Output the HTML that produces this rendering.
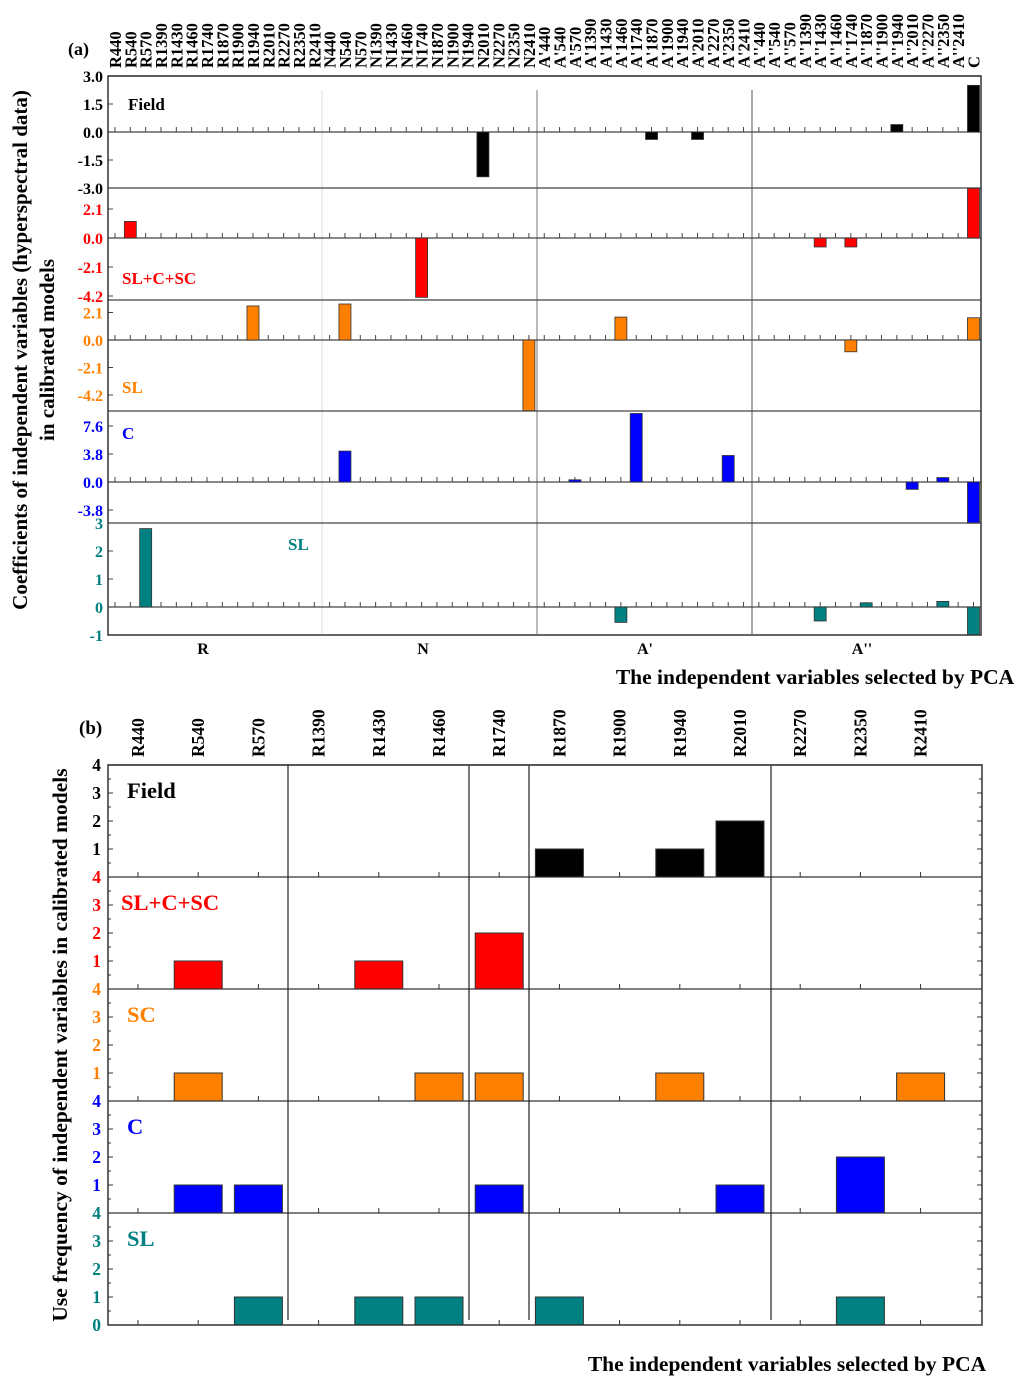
<!DOCTYPE html>
<html><head><meta charset="utf-8"><style>
html,body{margin:0;padding:0;background:#fff;}
svg{display:block;font-family:"Liberation Serif",serif;font-weight:bold;}
</style></head><body>
<svg id="fig" width="1024" height="1382" viewBox="0 0 1024 1382" xmlns="http://www.w3.org/2000/svg"></svg>
<script>
// ---- Panel (a) data ----
const groupsA = ["R","N","A'","A''"];
const bandsA = ["440","540","570","1390","1430","1460","1740","1870","1900","1940","2010","2270","2350","2410"];
const fieldVals = {"N2010":-2.4,"A'1870":-0.4,"A'2010":-0.4,"A''1940":0.4,"C":2.5};
const slcscVals = {"R540":1.2,"N1740":-4.3,"A''1430":-0.65,"A''1740":-0.65,"C":3.6};
const scVals = {"R1940":2.6,"N540":2.75,"N2410":-5.4,"A'1460":1.75,"A''1740":-0.9,"C":1.7};
const cVals = {"N540":4.2,"A'570":0.3,"A'1740":9.3,"A'2350":3.6,"A''2010":-1.0,"A''2350":0.6,"C":-5.6};
const slVals = {"R570":2.8,"A'1460":-0.55,"A''1430":-0.5,"A''1870":0.15,"A''2350":0.2,"C":-1.0};
const ticksField = [3.0,1.5,0.0,-1.5,-3.0];
const ticks21 = [2.1,0.0,-2.1,-4.2];
const ticks38 = [7.6,3.8,0.0,-3.8];
const ticksSL = [3,2,1,0,-1];
// ---- Panel (b) data ----
const catsB = ["R440","R540","R570","R1390","R1430","R1460","R1740","R1870","R1900","R1940","R2010","R2270","R2350","R2410"];
const freqField = [0,0,0,0,0,0,0,1,0,1,2,0,0,0];
const freqSLCSC = [0,1,0,0,1,0,2,0,0,0,0,0,0,0];
const freqSC = [0,1,0,0,0,1,1,0,0,1,0,0,0,1];
const freqC = [0,1,1,0,0,0,1,0,0,0,1,0,2,0];
const freqSL = [0,0,1,0,1,1,0,1,0,0,0,0,1,0];
const ticksB = [4,3,2,1];

const svg = document.getElementById('fig');
const NS = "http://www.w3.org/2000/svg";
function el(tag, attrs, parent){const e=document.createElementNS(NS,tag);for(const k in attrs)e.setAttribute(k,attrs[k]);(parent||svg).appendChild(e);return e;}
function txt(s, attrs, parent){const e=el('text',attrs,parent);e.textContent=s;return e;}

// ===== Panel (a) =====
const catsA = [];
groupsA.forEach(g=>bandsA.forEach(b=>catsA.push(g+b)));
catsA.push("C");
const aL=108, aR=981;
const xA = i => 115 + i*15.33;
const ga = el('g',{});


[[322,'#ddd'],[537,'#777'],[752,'#555']].forEach(s=>{const l=el('line',{x1:s[0],x2:s[0],y1:90,y2:634,stroke:s[1],'stroke-width':1},ga);});
catsA.forEach((c,i)=>{
  const t=txt(c,{x:0,y:0,'font-size':16.5,transform:`translate(${xA(i)+6},68) rotate(-90)`,fill:'#000'},ga);
  
  
});
txt('(a)',{x:68,y:55,'font-size':18},ga);

const subA = [
 {name:'field',vals:fieldVals,top:76,bot:188,zero:132,ppu:56/3,ticks:ticksField,color:'#000',fmt:1,label:'Field',lx:128,ly:110,lc:'#000'},
 {name:'slcsc',vals:slcscVals,top:188,bot:300,zero:238,ppu:29/2.1,ticks:ticks21,color:'#f00',fmt:1,label:'SL+C+SC',lx:122,ly:284,lc:'#f00'},
 {name:'sc',vals:scVals,top:300,bot:411,zero:340,ppu:27.5/2.1,ticks:ticks21,color:'#ff8000',fmt:1,label:'SL',lx:122,ly:393,lc:'#ff8000'},
 {name:'c',vals:cVals,top:411,bot:523,zero:482,ppu:28/3.8,ticks:ticks38,color:'#00f',fmt:1,label:'C',lx:122,ly:439,lc:'#00f'},
 {name:'sl',vals:slVals,top:523,bot:635,zero:607,ppu:28,ticks:ticksSL,color:'#008080',fmt:0,label:'SL',lx:288,ly:550,lc:'#008080'}
];
subA.forEach(p=>{
  const g=el('g',{},ga);
  
  
  const y=v=>p.zero - v*p.ppu;
  el('line',{x1:aL,x2:aR,y1:p.top,y2:p.top,stroke:'#444','stroke-width':1.3},g);
  el('line',{x1:aL,x2:aR,y1:p.zero,y2:p.zero,stroke:'#444','stroke-width':1.3},g);
  catsA.forEach((c,i)=>{el('line',{x1:xA(i),x2:xA(i),y1:p.zero,y2:p.zero-5,stroke:'#444'},g);});
  p.ticks.forEach(t=>{
    el('line',{x1:aL,x2:aL+5,y1:y(t),y2:y(t),stroke:'#444'},g);
    const lab=txt(t.toFixed(p.fmt),{x:103,y:y(t)+6,'font-size':16,'text-anchor':'end',fill:p.color},g);
    
    
  });
  for(const k in p.vals){
    const i=catsA.indexOf(k); const v=p.vals[k];
    const r=el('rect',{x:xA(i)-6,y:Math.min(y(v),p.zero),width:12,height:Math.abs(y(v)-p.zero),fill:p.color,stroke:'#333','stroke-width':0.8},g);
    
    
  }
  const lt=txt(p.label,{x:p.lx,y:p.ly,'font-size':17,fill:p.lc},g);
  
  
});
el('rect',{x:aL,y:76,width:aR-aL,height:635-76,fill:'none',stroke:'#333','stroke-width':1.5},ga);
[['R',203],['N',423],["A'",645],["A''",862]].forEach(g=>{const t=txt(g[0],{x:g[1],y:654,'font-size':16,'text-anchor':'middle'},ga);});
const xta=txt('The independent variables selected by PCA',{x:815,y:684,'font-size':21.5,'text-anchor':'middle'},ga);

const yta=txt('Coefficients of independent variables (hyperspectral data)',{x:0,y:0,'font-size':21,'text-anchor':'middle',transform:'translate(27,350) rotate(-90)'},ga);

const yta2=txt('in calibrated models',{x:0,y:0,'font-size':21,'text-anchor':'middle',transform:'translate(54,350) rotate(-90)'},ga);


// ===== Panel (b) =====
const gb=el('g',{});


const bL=108,bR=982;
const xB=i=>138+i*60.2;
txt('(b)',{x:79,y:734,'font-size':19},gb);
catsB.forEach((c,i)=>{
  const t=txt(c,{x:0,y:0,'font-size':17.5,transform:`translate(${xB(i)+6},757) rotate(-90)`},gb);
  
  
});
const subB=[
 {name:'field',vals:freqField,top:765,color:'#000',label:'Field',lc:'#000',tc:'#000'},
 {name:'slcsc',vals:freqSLCSC,top:877,color:'#f00',label:'SL+C+SC',lc:'#f00',tc:'#f00'},
 {name:'sc',vals:freqSC,top:989,color:'#ff8000',label:'SC',lc:'#ff8000',tc:'#ff8000'},
 {name:'c',vals:freqC,top:1101,color:'#00f',label:'C',lc:'#00f',tc:'#00f'},
 {name:'sl',vals:freqSL,top:1213,color:'#008080',label:'SL',lc:'#008080',tc:'#008080'}
];
subB.forEach(p=>{
  const g=el('g',{},gb);
  
  
  const base=p.top+112;
  const y=v=>base-v*28;
  el('line',{x1:bL,x2:bR,y1:p.top,y2:p.top,stroke:'#333','stroke-width':1.3},g);
  catsB.forEach((c,i)=>el('line',{x1:xB(i),x2:xB(i),y1:base,y2:base-5,stroke:'#333'},g));
  for(let v=0.5;v<4;v+=0.5){
    el('line',{x1:bL,x2:bL+(v%1?3:5),y1:y(v),y2:y(v),stroke:'#333'},g);
    el('line',{x1:bR,x2:bR-(v%1?3:5),y1:y(v),y2:y(v),stroke:'#333'},g);
  }
  ticksB.forEach(t=>{
    const lab=txt(String(t),{x:101,y:y(t)+6,'font-size':17.5,'text-anchor':'end',fill:p.tc},g);
    
    
  });
  p.vals.forEach((v,i)=>{
    if(!v)return;
    const r=el('rect',{x:xB(i)-24,y:y(v),width:48,height:v*28,fill:p.color,stroke:'#333','stroke-width':1},g);
    
    
  });
  const lt=txt(p.label,{x:p.label==='SL+C+SC'?121:127,y:p.top+33,'font-size':22.5,fill:p.lc},g);
  
  
});
txt('0',{x:101,y:1331,'font-size':17.5,'text-anchor':'end',fill:'#008080'},gb);
[288,469,529,771].forEach(x=>{const l=el('line',{x1:x,x2:x,y1:765,y2:1320,stroke:'#222','stroke-width':1.2},gb);});
el('rect',{x:bL,y:765,width:bR-bL,height:560,fill:'none',stroke:'#333','stroke-width':1.5},gb);
const xtb=txt('The independent variables selected by PCA',{x:787,y:1371,'font-size':21.5,'text-anchor':'middle'},gb);

const ytb=txt('Use frequency of independent variables in calibrated models',{x:0,y:0,'font-size':21.5,'text-anchor':'middle',transform:'translate(67,1045) rotate(-90)'},gb);

</script>
</body></html>
